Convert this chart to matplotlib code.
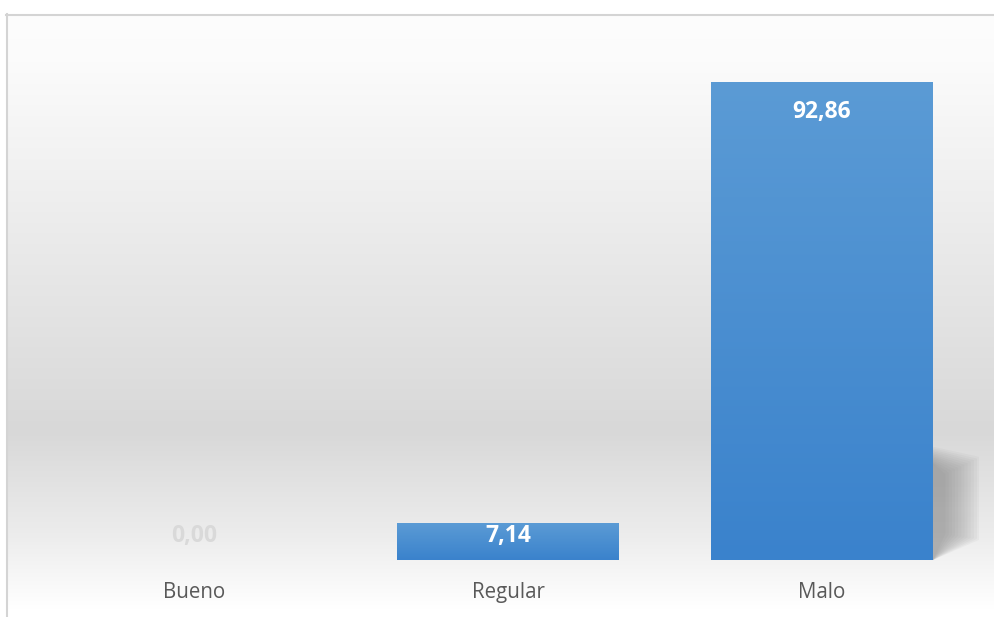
import numpy as np
import matplotlib
matplotlib.use("Agg")
import matplotlib.pyplot as plt
from matplotlib.colors import LinearSegmentedColormap
from matplotlib.patches import Polygon

categorias = ["Bueno", "Regular", "Malo"]
valores = [0.00, 7.14, 92.86]
etiquetas = ["0,00", "7,14", "92,86"]

plt.rcParams['font.family'] = ['Open Sans', 'DejaVu Sans']

W, H = 995, 617
fig = plt.figure(figsize=(W / 100, H / 100), dpi=100)

# background with vertical grey gradient (chart area of the spreadsheet)
bg = fig.add_axes([0, 0, 1, 1])
bg.set_xlim(0, W)
bg.set_ylim(H, 0)
bg.axis("off")
stops = [(0.0, "#fdfdfd"), (0.08, "#fbfbfb"), (0.35, "#ececec"),
         (0.70, "#d8d8d8"), (0.88, "#ededed"), (1.0, "#ffffff")]
bg_cmap = LinearSegmentedColormap.from_list("bg", stops)
grad = np.linspace(0, 1, 256).reshape(-1, 1)
bg.imshow(grad, cmap=bg_cmap, aspect="auto", extent=(7, W, 610, 14), zorder=0)
bg.plot([6, W], [14.5, 14.5], color="#d4d4d4", lw=1.5, zorder=1)
bg.plot([6.5, 6.5], [14, H], color="#d4d4d4", lw=1.5, zorder=1)

# main axes
ax = fig.add_axes([5.6 / W, 57 / H, 973.4 / W, 514.8 / H])
ax.axis("off")
ax.patch.set_alpha(0)

x = np.arange(len(categorias))
bars = ax.bar(x, valores, width=0.707, color="#4a8fd3", zorder=3)

bar_cmap = LinearSegmentedColormap.from_list("bar", ["#3a82cc", "#5b9bd5"])
for b in bars:
    if b.get_height() <= 0:
        continue
    x0, w, h = b.get_x(), b.get_width(), b.get_height()
    im = ax.imshow(grad, cmap=bar_cmap, aspect="auto", origin="lower",
                   extent=(x0, x0 + w, 0, h), zorder=4)
    im.set_clip_path(b)

# soft shadow at the right of the tallest bar
b = bars[2]
xr = b.get_x() + b.get_width()
for i in range(12):
    d = 0.01 * i
    poly = Polygon([(xr, 1), (xr, 22 - d * 30), (xr + 0.15 - d, 20 - d * 30),
                    (xr + 0.15 - d, 4 + d * 10), (xr, 0)],
                   closed=True, facecolor="#737373", edgecolor="none",
                   alpha=0.055, zorder=2)
    ax.add_patch(poly)

ax.set_xlim(-0.6, 2.5)
ax.set_ylim(0, 100)

for xi, v, lab, cat in zip(x, valores, etiquetas, categorias):
    if v <= 0:
        ax.text(xi, 3.5, lab, ha="center", va="baseline", fontsize=16.5,
                fontweight="bold", color="#d9d9d9", zorder=5)
    elif v < 15:
        ax.text(xi, 3.5, lab, ha="center", va="baseline", fontsize=16.5,
                fontweight="bold", color="white", zorder=5)
    else:
        ax.text(xi, v - 7.0, lab, ha="center", va="baseline", fontsize=16.5,
                fontweight="bold", color="white", zorder=5)
    ax.text(xi, -7.4, cat, ha="center", va="baseline",
            fontsize=14.8, color="#595959", zorder=5, clip_on=False)

fig.savefig("out.png", dpi=100)
